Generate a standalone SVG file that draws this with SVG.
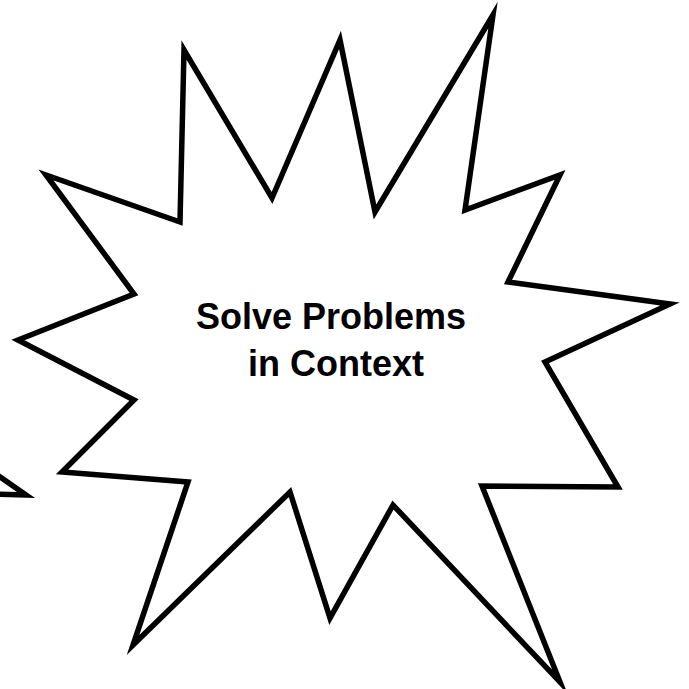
<svg xmlns="http://www.w3.org/2000/svg" width="689" height="689" viewBox="0 0 689 689">
<style>
.shape{fill:#fff;stroke:#000;stroke-width:5.5;stroke-linejoin:miter;stroke-miterlimit:20}
.lbl{font-family:"Liberation Sans",Arial,sans-serif;font-weight:bold;font-size:36px;fill:#000;text-anchor:middle}
</style>
<rect width="689" height="689" fill="#fff"/>
<g id="connectors">
<polyline class="shape" fill="none" points="-10,470 26,495 -10,494"/>
</g>
<g id="burst">
<polygon class="shape" points="184,50 272,198 340,40 375,212 493,15 465,210 560,175 508,282 670,304 545,362 618,487 482,486 560,682 393,505 330,618 290,492 133,645 188,482 62,472 134,400 18,340 134,294 46,175 180,222"/>
<text class="lbl" x="331" y="329">Solve Problems</text>
<text class="lbl" x="336" y="376">in Context</text>
</g>
</svg>
